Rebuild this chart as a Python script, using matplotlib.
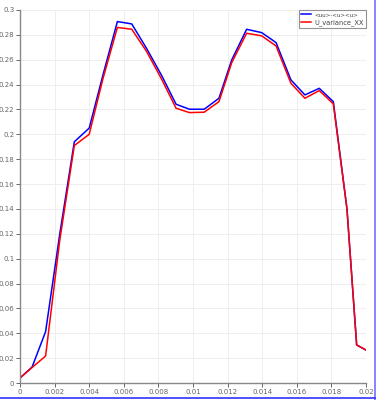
import matplotlib
matplotlib.use("Agg")
import matplotlib.pyplot as plt
from matplotlib.lines import Line2D

x_vals = [0.0, 0.0007, 0.00148, 0.0023, 0.00314, 0.0040, 0.0048, 0.00563, 0.00646,
          0.00732, 0.0082, 0.00902, 0.00979, 0.01065, 0.0115, 0.01224, 0.0131,
          0.01397, 0.0148, 0.01566, 0.01647, 0.0173, 0.01811, 0.0189, 0.01946, 0.02]
uu_blue = [0.004, 0.0129, 0.0413, 0.12, 0.194, 0.205, 0.248, 0.2907, 0.2888,
           0.269, 0.247, 0.2242, 0.2202, 0.2202, 0.229, 0.2599, 0.2845,
           0.2818, 0.2738, 0.2438, 0.2317, 0.237, 0.2263, 0.14, 0.0306, 0.0265]
var_red = [0.004, 0.0125, 0.0217, 0.115, 0.191, 0.200, 0.245, 0.286, 0.2845,
           0.2666, 0.244, 0.221, 0.2175, 0.2178, 0.2263, 0.2577, 0.2813,
           0.2792, 0.2711, 0.2411, 0.229, 0.2352, 0.2245, 0.14, 0.0306, 0.0265]
x_ticks = [0, 0.002, 0.004, 0.006, 0.008, 0.01, 0.012, 0.014, 0.016, 0.018, 0.02]
x_labels = ["0", "0.002", "0.004", "0.006", "0.008", "0.01", "0.012", "0.014", "0.016", "0.018", "0.02"]
y_ticks = [0, 0.02, 0.04, 0.06, 0.08, 0.1, 0.12, 0.14, 0.16, 0.18, 0.2, 0.22, 0.24, 0.26, 0.28, 0.3]
y_labels = ["0", "0.02", "0.04", "0.06", "0.08", "0.1", "0.12", "0.14", "0.16", "0.18", "0.2",
            "0.22", "0.24", "0.26", "0.28", "0.3"]
series_names = ["<uu>-<u><u>", "U_variance_XX"]

fig = plt.figure(figsize=(3.77, 4.0), dpi=100)
ax = fig.add_axes([20/377, 17/400, 346/377, 373/400])

ax.plot(x_vals, uu_blue, color="#0000ff", lw=1.1, label=series_names[0])
ax.plot(x_vals, var_red, color="#ff0000", lw=1.1, label=series_names[1])

ax.set_xlim(0, 0.02)
ax.set_ylim(0, 0.3)
ax.set_xticks(x_ticks)
ax.set_xticklabels(x_labels)
ax.set_yticks(y_ticks)
ax.set_yticklabels(y_labels)
ax.grid(True, color="#eeeeee", lw=0.7)
ax.set_axisbelow(True)
for s in ["top", "right"]:
    ax.spines[s].set_visible(False)
for s in ["left", "bottom"]:
    ax.spines[s].set_color("#888888")
    ax.spines[s].set_linewidth(1.0)
ax.tick_params(axis="both", labelsize=5, colors="#666666", length=3, width=0.7, pad=1)

leg = ax.legend(loc="upper right", bbox_to_anchor=(1.0, 1.0), fontsize=4.8,
                frameon=True, fancybox=False, edgecolor="#777777",
                handlelength=1.6, handletextpad=0.5, borderpad=0.3,
                labelspacing=0.2, borderaxespad=0.0)
leg.get_frame().set_linewidth(0.8)
leg.get_texts()[0].set_fontsize(4.0)
for t in leg.get_texts():
    t.set_color("#444444")

fig.add_artist(Line2D([375/377, 375/377], [0, 1], color="#7070ff", lw=1.2, transform=fig.transFigure))
fig.add_artist(Line2D([0, 375/377], [2.5/400, 2.5/400], color="#3030ff", lw=1.2, transform=fig.transFigure))

fig.savefig("out.png", dpi=100)
